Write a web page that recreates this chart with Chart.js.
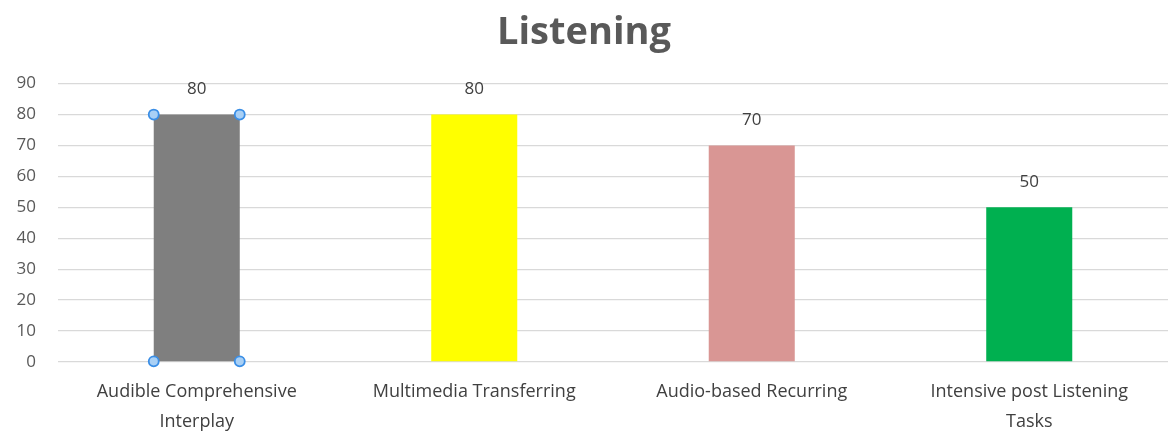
<!DOCTYPE html>
<html>
<head>
<meta charset="utf-8">
<script src="https://cdn.jsdelivr.net/npm/chart.js@4"></script>
<style>
  html, body { margin: 0; padding: 0; background: #fff; }
  #wrap { width: 1170px; height: 435px; }
</style>
</head>
<body>
<div id="wrap"><canvas id="bar-chart"></canvas></div>
<script>
// skills and their scores
const categorias = [
  ['Audible Comprehensive', 'Interplay'],
  'Multimedia Transferring',
  'Audio-based Recurring',
  ['Intensive post Listening', 'Tasks']
]
const valores = [80, 80, 70, 50]
const cores = ['#7f7f7f', '#ffff00', '#d99694', '#00b050']
const tituloGrafico = 'Listening'

const fonte = "'Open Sans', 'Noto Sans', sans-serif"

// numbers written above each bar
const rotulosValor = {
  id: 'rotulosValor',
  afterDatasetsDraw(chart) {
    const c = chart.ctx
    const meta = chart.getDatasetMeta(0)
    c.save()
    c.font = '17px ' + fonte
    c.fillStyle = '#404040'
    c.textAlign = 'center'
    c.textBaseline = 'middle'
    meta.data.forEach((bar, i) => {
      c.fillText(String(valores[i]), bar.x, bar.y - 25)
    })
    c.restore()
  }
}

// selection handles on the corners of the first bar
const alcas = {
  id: 'alcas',
  afterDatasetsDraw(chart) {
    const c = chart.ctx
    const bar = chart.getDatasetMeta(0).data[0]
    const esq = bar.x - bar.width / 2
    const dir = bar.x + bar.width / 2
    const pontos = [[esq, bar.y], [dir, bar.y], [esq, bar.base], [dir, bar.base]]
    c.save()
    pontos.forEach(([px, py]) => {
      c.beginPath()
      c.arc(px, py, 5, 0, Math.PI * 2)
      c.fillStyle = '#a9d0f5'
      c.fill()
      c.lineWidth = 1.8
      c.strokeStyle = '#3a8ee6'
      c.stroke()
    })
    c.restore()
  }
}

new Chart(document.querySelector('#bar-chart'), {
  type: 'bar',
  data: {
    labels: categorias,
    datasets: [{
      data: valores,
      backgroundColor: cores,
      borderWidth: 0,
      categoryPercentage: 1,
      barPercentage: 0.31
    }]
  },
  options: {
    responsive: true,
    maintainAspectRatio: false,
    animation: false,
    layout: { padding: { left: 0, right: 2, top: 0, bottom: 0 } },
    plugins: {
      legend: { display: false },
      tooltip: { enabled: false },
      title: {
        display: true,
        text: tituloGrafico,
        color: '#595959',
        font: { family: fonte, size: 38, weight: 'bold' },
        padding: { top: 10, bottom: 28 }
      }
    },
    scales: {
      x: {
        afterFit(scale) { scale.height = 73 },
        grid: { display: false },
        border: { display: false },
        ticks: {
          color: '#404040',
          font: { family: fonte, size: 18, lineHeight: 1.65 },
          padding: 7,
          maxRotation: 0,
          autoSkip: false
        }
      },
      y: {
        min: 0,
        max: 90,
        afterFit(scale) { scale.width = 58 },
        grid: { color: '#d9d9d9', lineWidth: 1.3, drawTicks: false },
        border: { display: false },
        ticks: {
          stepSize: 10,
          color: '#595959',
          font: { family: fonte, size: 17 },
          padding: 22
        }
      }
    }
  },
  plugins: [rotulosValor, alcas]
})
</script>
</body>
</html>
